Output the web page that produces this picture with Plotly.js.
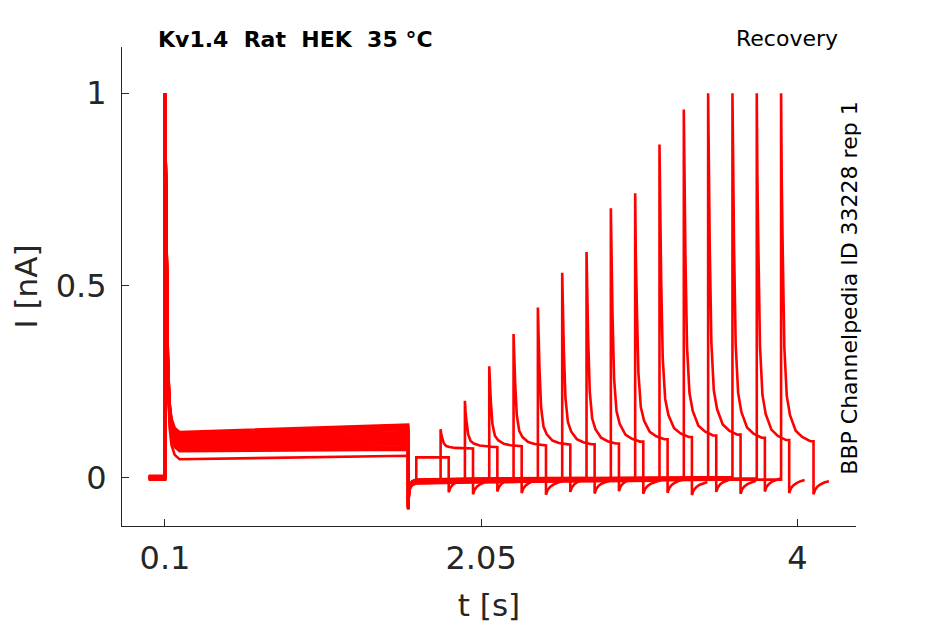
<!DOCTYPE html>
<html>
<head>
<meta charset="utf-8">
<script src="https://cdn.plot.ly/plotly-3.0.1.min.js"></script>
<style>
  html, body { margin: 0; padding: 0; background: #fff; }
  #chart { width: 945px; height: 624px; }
</style>
</head>
<body>
<div id="chart"></div>
<script>
// Kv1.4 recovery from inactivation: 16 sweeps, prepulse 0.1-1.6 s, test pulse after a growing gap
const sweepStart = 0;
const prepulseOn = 0.1;
const prepulseOff = 1.6;
const testDuration = 0.2;

const testOn = [1.65, 1.80, 1.95, 2.10, 2.25, 2.40, 2.55, 2.70, 2.85, 3.00, 3.15, 3.30, 3.45, 3.60, 3.75, 3.90];
const testPeak = [0.053, 0.126, 0.200, 0.290, 0.374, 0.443, 0.533, 0.587, 0.701, 0.740, 0.867, 0.958, 1.0, 1.0, 1.0, 1.0];
const testLevel = [0.053, 0.076, 0.080, 0.082, 0.084, 0.086, 0.087, 0.089, 0.094, 0.100, 0.106, 0.110, 0.112, 0.104, 0.098, 0.095];

// steady current during the prepulse (after the peak, and at its end)
const preLevelStart = [0.048, 0.069, 0.072, 0.076, 0.079, 0.083, 0.086, 0.090, 0.093, 0.097, 0.100, 0.104, 0.108, 0.111, 0.115, 0.119];
const preLevelEnd = [0.057, 0.073, 0.078, 0.082, 0.087, 0.092, 0.096, 0.101, 0.106, 0.110, 0.115, 0.119, 0.124, 0.129, 0.133, 0.138];

// holding current spread between sweeps
const holdOffset = [0.002, -0.003, 0.004, 0.0, -0.004, 0.003, -0.001, 0.005, -0.002, 0.001, -0.005, 0.003, -0.002, 0.004, 0.0, -0.003];

// inactivation after the peak: time from peak (s), fraction of peak left above steady level
const prepulseDecayDt = [0, 0.004, 0.008, 0.012, 0.018, 0.028, 0.04, 0.06, 0.09];
const prepulseDecayFrac = [1, 0.78, 0.56, 0.37, 0.22, 0.09, 0.04, 0.012, 0];
const testDecayDt = [0, 0.004, 0.01, 0.02, 0.035, 0.055, 0.09, 0.13, 0.18];
const testDecayFrac = [1, 0.75, 0.55, 0.27, 0.13, 0.075, 0.03, 0.012, 0];

// transient after the prepulse, then holding drift
const offDt = [0, 0.005, 0.012, 0.025, 0.05];
const offValue = [-0.078, -0.035, -0.022, -0.014, -0.01];
const holdT = [2.0, 2.5, 3.0, 3.5, 4.0];
const holdValue = [-0.007, -0.005, -0.003, -0.002, -0.001];

// tail after the test pulse
const tailDt = [0, 0.01, 0.025, 0.045, 0.07, 0.095];
const tailValue = [-0.04, -0.028, -0.02, -0.014, -0.009, -0.006];

const xTicks = [0.1, 2.05, 4];
const xTickText = ['0.1', '2.05', '4'];
const yTicks = [0, 0.5, 1];
const yTickText = ['0', '0.5', '1'];

const ink = '#262626';
const font = 'DejaVu Sans, sans-serif';

function sweepTrace(k) {
  const off = holdOffset[k];
  const x = [sweepStart, prepulseOn];
  const y = [off, off];
  const lvl = preLevelStart[k];
  prepulseDecayDt.forEach((dt, i) => {
    x.push(prepulseOn + dt);
    y.push(lvl + prepulseDecayFrac[i] * (1 - lvl));
  });
  x.push(prepulseOff); y.push(preLevelEnd[k]);

  let lastV = offValue[0] + off;
  offDt.forEach((dt, i) => {
    const t = prepulseOff + dt;
    if (t < testOn[k]) { x.push(t); y.push(offValue[i] + off); lastV = offValue[i] + off; }
  });
  holdT.forEach((t, i) => {
    if (t < testOn[k]) { x.push(t); y.push(holdValue[i] + off); lastV = holdValue[i] + off; }
  });
  x.push(testOn[k]); y.push(lastV);

  testDecayDt.forEach((dt, i) => {
    x.push(testOn[k] + dt);
    y.push(testLevel[k] + testDecayFrac[i] * (testPeak[k] - testLevel[k]));
  });
  x.push(testOn[k] + testDuration); y.push(testLevel[k]);
  tailDt.forEach((dt, i) => {
    x.push(testOn[k] + testDuration + dt);
    y.push(tailValue[i] + off);
  });

  return {
    type: 'scatter', mode: 'lines', x, y,
    line: { color: '#ff0000', width: 2.6 },
    hoverinfo: 'skip', showlegend: false
  };
}

const traces = testOn.map((_, k) => sweepTrace(k));

const layout = {
  width: 945, height: 624,
  margin: { l: 122, r: 89, t: 47, b: 98 },
  paper_bgcolor: '#fff', plot_bgcolor: '#fff',
  font: { family: font, color: ink },
  showlegend: false,
  xaxis: {
    range: [-0.165, 4.362],
    showgrid: false, zeroline: false,
    showline: true, linecolor: ink, linewidth: 1,
    ticks: 'inside', ticklen: 7, tickcolor: ink, tickwidth: 1,
    tickvals: xTicks, ticktext: xTickText,
    tickfont: { family: font, size: 32, color: ink },
    ticklabelstandoff: 4,
    title: { text: 't [s]', font: { family: font, size: 31, color: ink }, standoff: 17 }
  },
  yaxis: {
    range: [-0.1256, 1.1204],
    showgrid: false, zeroline: false,
    showline: true, linecolor: ink, linewidth: 1,
    ticks: 'inside', ticklen: 7, tickcolor: ink, tickwidth: 1,
    tickvals: yTicks, ticktext: yTickText,
    tickfont: { family: font, size: 32, color: ink },
    ticklabelstandoff: 8,
    title: { text: 'I [nA]', font: { family: font, size: 31, color: ink }, standoff: 8 }
  },
  annotations: [
    {
      text: '<b>Kv1.4\u00a0 Rat\u00a0 HEK\u00a0 35 °C</b>',
      xref: 'paper', yref: 'paper', x: 0.047, y: 1.0161,
      xanchor: 'left', yanchor: 'middle', showarrow: false,
      font: { family: font, size: 22, color: '#000' }
    },
    {
      text: 'Recovery',
      xref: 'paper', yref: 'paper', x: 0.9064, y: 1.0171,
      xanchor: 'center', yanchor: 'middle', showarrow: false,
      font: { family: font, size: 22, color: '#000' }
    },
    {
      text: 'BBP Channelpedia ID 33228 rep 1',
      xref: 'paper', yref: 'paper', x: 0.9918, y: 0.4976,
      xanchor: 'center', yanchor: 'middle', textangle: -90, showarrow: false,
      font: { family: font, size: 22, color: '#000' }
    }
  ]
};

Plotly.newPlot('chart', traces, layout, { staticPlot: true, displayModeBar: false });
</script>
</body>
</html>
